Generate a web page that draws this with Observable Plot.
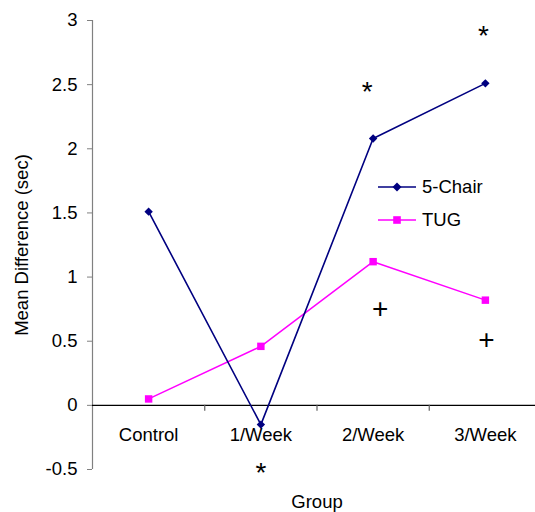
<!DOCTYPE html>
<html>
<head>
<meta charset="utf-8">
<script src="https://cdn.jsdelivr.net/npm/d3@7"></script>
<script src="https://cdn.jsdelivr.net/npm/@observablehq/plot@0.6"></script>
<style>
  html, body { margin: 0; padding: 0; background: #fff; }
  #wrap { position: relative; width: 535px; height: 512px; overflow: hidden; font-family: "Liberation Sans", Arial, sans-serif; }
  #legend { position: absolute; left: 378px; top: 170px; font-size: 18.5px; color: #000; }
  #legend .row { display: flex; align-items: center; height: 33px; }
  #legend svg { margin-right: 6px; }
</style>
</head>
<body>
<div id="wrap"></div>
<script>
// ---- data ----
const groups = ["Control", "1/Week", "2/Week", "3/Week"];
const chair5 = [1.51, -0.15, 2.08, 2.51];
const tug = [0.05, 0.46, 1.12, 0.82];
const yTicks = [-0.5, 0, 0.5, 1, 1.5, 2, 2.5, 3];
const seriesNames = ["5-Chair", "TUG"];
const seriesColors = ["#000080", "#FF00FF"];
// significance annotations (x in category-index units, centre of category i is i + 0.5)
const annX = [1.5, 2.447, 3.482, 2.562, 3.509];
const annValue = [-0.5, 2.47, 2.91, 0.755, 0.52];
const annSymbol = ["*", "*", "*", "+", "+"];

// ---- build tables ----
const rows5 = groups.map((g, i) => ({group: g, pos: i + 0.5, value: chair5[i]}));
const rowsT = groups.map((g, i) => ({group: g, pos: i + 0.5, value: tug[i]}));
const cats = groups.map((g, i) => ({group: g, pos: i + 0.5}));
const boundaries = groups.slice(1).map((g, i) => i + 1);
const ann = annSymbol.map((s, i) => ({x: annX[i], y: annValue[i], s}));

const font = "Liberation Sans, Arial, sans-serif";
const fs = 18.5;

const chart = Plot.plot({
  width: 535,
  height: 512,
  marginTop: 20,
  marginBottom: 43,
  marginLeft: 92,
  marginRight: 0,
  style: {fontFamily: font, fontSize: fs + "px", background: "white", color: "black", overflow: "visible"},
  x: {type: "linear", domain: [0, groups.length], range: [92, 541], axis: null},
  y: {domain: [-0.5, 3], ticks: yTicks},
  marks: [
    // y axis line (grey) at x = 0
    Plot.ruleX([0], {y1: -0.5, y2: 3, stroke: "#808080", strokeWidth: 1.2}),
    Plot.axisY({ticks: yTicks, tickSize: 5, tickPadding: 10, stroke: "#808080", fill: "black", fontSize: fs, label: null, tickFormat: d => String(d)}),
    // x axis along zero
    Plot.ruleY([0], {x1: 0, x2: groups.length, stroke: "black", strokeWidth: 1.2}),
    Plot.ruleX(boundaries, {y1: 0, y2: 0, insetBottom: -6, stroke: "#606060", strokeWidth: 1.2}),
    Plot.text(cats, {x: "pos", y: 0, text: "group", dy: 23, lineAnchor: "top", fontSize: fs, fill: "black"}),
    // axis titles
    Plot.text(["Group"], {x: groups.length / 2, y: -0.5, dy: 25, lineAnchor: "top", fontSize: fs, fill: "black"}),
    Plot.text(["Mean Difference (sec)"], {frameAnchor: "left", textAnchor: "middle", rotate: -90, dx: -70, fontSize: fs, fill: "black"}),
    // series
    Plot.line(rowsT, {x: "pos", y: "value", stroke: seriesColors[1], strokeWidth: 1.5}),
    Plot.dot(rowsT, {x: "pos", y: "value", symbol: "square", r: 4.2, fill: seriesColors[1], stroke: "none"}),
    Plot.line(rows5, {x: "pos", y: "value", stroke: seriesColors[0], strokeWidth: 1.6}),
    Plot.dot(rows5, {x: "pos", y: "value", symbol: "diamond2", r: 3.8, fill: seriesColors[0], stroke: "none"}),
    // annotations
    Plot.text(ann.filter(d => d.s === "*"), {x: "x", y: "y", text: "s", fontSize: 28, dy: 4, fill: "black"}),
    Plot.text(ann.filter(d => d.s === "+"), {x: "x", y: "y", text: "s", fontSize: 28, dy: 1, fill: "black"})
  ]
});

const wrap = document.getElementById("wrap");
wrap.appendChild(chart);

// legend
const legend = document.createElement("div");
legend.id = "legend";
seriesNames.forEach((name, i) => {
  const row = document.createElement("div");
  row.className = "row";
  const sym = i === 0
    ? `<path d="M19,0.5 L23.5,5 L19,9.5 L14.5,5 Z" fill="${seriesColors[i]}"/>`
    : `<rect x="15.2" y="1.2" width="7.6" height="7.6" fill="${seriesColors[i]}"/>`;
  row.innerHTML = `<svg width="38" height="10"><line x1="0" x2="38" y1="5" y2="5" stroke="${seriesColors[i]}" stroke-width="1.6"/>${sym}</svg><span>${name}</span>`;
  legend.appendChild(row);
});
wrap.appendChild(legend);
</script>
</body>
</html>
